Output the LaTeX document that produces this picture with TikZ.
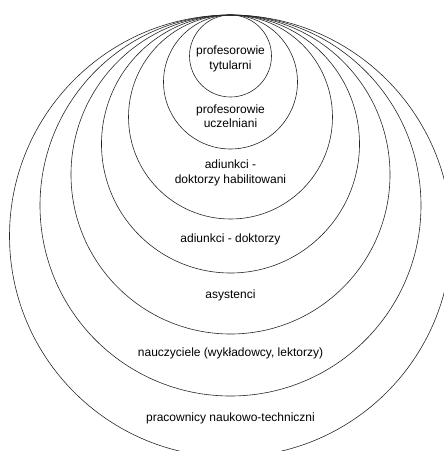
\documentclass[tikz,border=0pt]{standalone}
\usepackage{fontspec}
\setmainfont{Liberation Sans}
\usetikzlibrary{positioning}
\tikzset{ring/.style={
            draw=black!85,
            circle,
            line width=0.6pt,
            inner sep=0pt
        },
        grouptext/.style={
            align=center,
            inner sep=0pt,
            font=\fontsize{12}{14.5}\selectfont
        }
    }
\begin{document}
\begin{tikzpicture}[x=1pt,y=-1pt]
        \useasboundingbox (0,0) rectangle (444,451);
        \clip (0,0) rectangle (444,451);
        % nested circles, all touching at the top
        \foreach \r/\n in {41/a,67/b,102/c,129/d,159.5/e,190.5/f,221/g}
            \node[ring, minimum size=\r*2pt] (ring\n) at (230.5,{15+\r}) {};
        \node[grouptext] (tytularni) at (230.5,59) {profesorowie\\tytularni};
        \node[grouptext] (uczelniani) at (230.5,116) {profesorowie\\uczelniani};
        \node[grouptext] (habilitowani) at (230.5,173) {adiunkci -\\doktorzy habilitowani};
        \node[grouptext] (doktorzy) at (230.5,239) {adiunkci - doktorzy};
        \node[grouptext] (asystenci) at (230.5,295) {asystenci};
        \node[grouptext] (nauczyciele) at (230.5,353) {nauczyciele (wykładowcy, lektorzy)};
        \node[grouptext] (techniczni) at (230.5,418) {pracownicy naukowo-techniczni};
    \end{tikzpicture}
\end{document}
